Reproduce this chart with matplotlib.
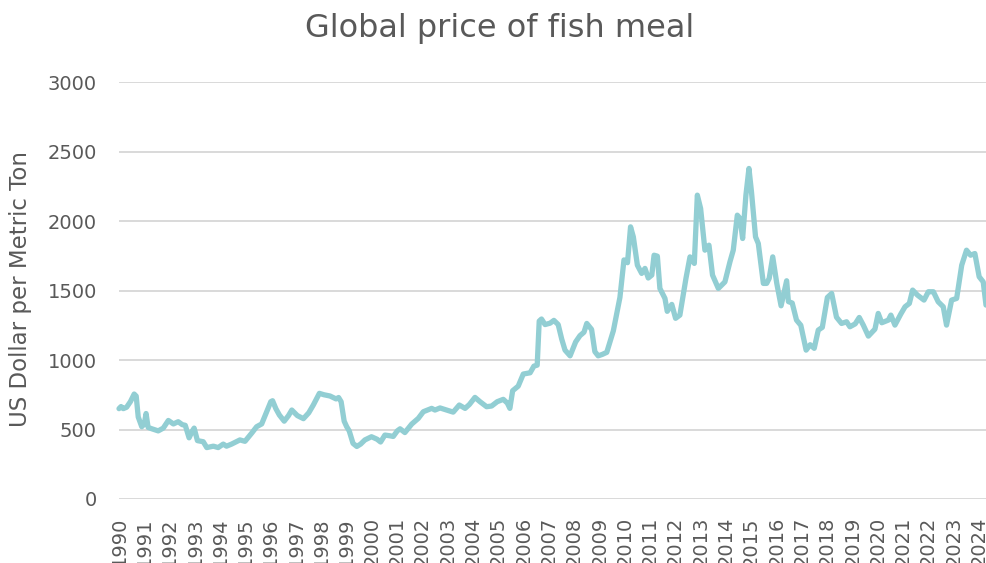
import matplotlib
matplotlib.use("Agg")
import matplotlib.pyplot as plt

plt.rcParams['font.family'] = ['DejaVu Sans']

title = "Global price of fish meal"
y_label = "US Dollar per Metric Ton"
year_ticks = list(range(1990, 2025))
y_ticks = [0, 500, 1000, 1500, 2000, 2500, 3000]

# fractional year of each reading
dates = [
    1990.00, 1990.08, 1990.17, 1990.30, 1990.45, 1990.60, 1990.68, 1990.76, 1990.90,
    1991.00, 1991.07, 1991.15, 1991.30, 1991.55, 1991.75, 1991.95,
    1992.15, 1992.34, 1992.50, 1992.62, 1992.77, 1992.90, 1992.97,
    1993.10, 1993.33, 1993.47, 1993.60, 1993.73, 1993.92,
    1994.12, 1994.25, 1994.45, 1994.78, 1994.98,
    1995.25, 1995.44, 1995.64, 1995.84, 1996.00, 1996.07, 1996.20, 1996.34, 1996.53,
    1996.70, 1996.83, 1997.05, 1997.29, 1997.50, 1997.68, 1997.92,
    1998.10, 1998.34, 1998.58, 1998.68, 1998.78, 1998.90, 1999.00, 1999.10, 1999.25,
    1999.40, 1999.55, 1999.72, 1999.98,
    2000.20, 2000.34, 2000.51, 2000.70, 2000.84, 2001.00, 2001.11, 2001.30, 2001.57,
    2001.83, 2002.03, 2002.20, 2002.36, 2002.49, 2002.69, 2002.95,
    2003.21, 2003.45, 2003.68, 2003.85, 2004.07, 2004.27, 2004.53, 2004.73, 2004.95,
    2005.19, 2005.35, 2005.45, 2005.56, 2005.78, 2005.98,
    2006.25, 2006.40, 2006.53, 2006.61, 2006.70, 2006.84, 2007.04, 2007.19, 2007.36,
    2007.50, 2007.63, 2007.83, 2008.05, 2008.22, 2008.38, 2008.49, 2008.68, 2008.81,
    2008.94, 2009.10, 2009.28, 2009.54, 2009.80, 2009.96,
    2010.10, 2010.22, 2010.33, 2010.49, 2010.66, 2010.79, 2010.92,
    2011.06, 2011.15, 2011.28, 2011.38, 2011.58, 2011.67, 2011.85,
    2012.00, 2012.17, 2012.41, 2012.57, 2012.74, 2012.86, 2012.99,
    2013.16, 2013.32, 2013.46, 2013.69, 2013.95,
    2014.15, 2014.28, 2014.44, 2014.55, 2014.65, 2014.78, 2014.90,
    2015.00, 2015.16, 2015.27, 2015.47, 2015.60, 2015.70, 2015.84,
    2016.00, 2016.17, 2016.39, 2016.46, 2016.61, 2016.78, 2016.95,
    2017.16, 2017.32, 2017.48, 2017.64, 2017.80,
    2018.00, 2018.17, 2018.36, 2018.56, 2018.76, 2018.89,
    2019.10, 2019.26, 2019.42, 2019.62, 2019.88,
    2020.01, 2020.15, 2020.41, 2020.51, 2020.67, 2020.90,
    2021.07, 2021.24, 2021.37, 2021.56, 2021.82, 2021.99,
    2022.19, 2022.38, 2022.58, 2022.71, 2022.91,
    2023.11, 2023.31, 2023.50, 2023.66, 2023.83,
    2024.00, 2024.16, 2024.27,
]

# US dollars per metric ton
prices = [
    650, 665, 650, 660, 700, 755, 740, 590, 520,
    540, 615, 515, 505, 490, 510, 565,
    540, 556, 535, 530, 440, 490, 510,
    420, 412, 370, 375, 380, 370,
    395, 380, 395, 425, 415,
    475, 520, 540, 628, 700, 707, 650, 604, 560,
    600, 640, 600, 578, 620, 676, 760,
    750, 741, 720, 730, 700, 560, 520, 490, 400,
    378, 395, 425, 448,
    430, 410, 460, 455, 450, 490, 505, 478, 539,
    580, 628, 640, 652, 640, 655, 640,
    625, 676, 652, 680, 731, 700, 664, 669, 700,
    717, 690, 652, 779, 812, 899,
    908, 956, 963, 1280, 1295, 1255, 1265, 1285, 1255,
    1150, 1071, 1030, 1130, 1175, 1200, 1263, 1220, 1060,
    1030, 1040, 1055, 1210, 1450, 1720,
    1700, 1958, 1886, 1682, 1623, 1659, 1590,
    1611, 1754, 1747, 1515, 1443, 1350, 1400,
    1300, 1323, 1587, 1742, 1695, 2186, 2090,
    1790, 1826, 1611, 1515, 1562,
    1707, 1790, 2042, 2018, 1874, 2186, 2378,
    2210, 1886, 1838, 1551, 1551, 1587, 1742,
    1551, 1390, 1570, 1420, 1410, 1287, 1250,
    1071, 1110, 1084, 1215, 1235,
    1450, 1479, 1308, 1263, 1275, 1239,
    1260, 1306, 1251, 1172, 1222,
    1335, 1268, 1287, 1323, 1251, 1330,
    1383, 1407, 1503, 1467, 1431, 1491,
    1491, 1419, 1383, 1251, 1431,
    1443, 1682, 1790, 1754, 1766,
    1599, 1562, 1395,
]

W, H = 986, 563
fig = plt.figure(figsize=(W / 100, H / 100), dpi=100)
ax = fig.add_axes([119 / W, 1 - 499 / H, (986 - 119) / W, (499 - 82) / H])

text_color = "#595959"
grid_color = "#D9D9D9"
line_color = "#92CED3"

ax.plot(dates, prices, color=line_color, lw=3.8, solid_joinstyle="round",
        solid_capstyle="round", zorder=3, clip_on=False)

ax.set_xlim(1990, 2024.27)
ax.set_ylim(0, 3000)
ax.set_yticks(y_ticks)
ax.set_yticklabels([str(v) for v in y_ticks])
ax.set_xticks(year_ticks)
ax.set_xticklabels([str(y) for y in year_ticks], rotation=90, va="top", ha="center")

ax.grid(axis="y", color=grid_color, lw=1.4, zorder=0)
ax.set_axisbelow(True)
for s in ax.spines.values():
    s.set_visible(False)
ax.tick_params(axis="both", length=0, colors=text_color, labelsize=14)
ax.tick_params(axis="y", pad=16)
ax.tick_params(axis="x", pad=13)

fig.text(500 / W, 1 - 29 / H, title, ha="center", va="center", fontsize=23, color=text_color)
fig.text(21 / W, 1 - 289 / H, y_label, ha="center", va="center", rotation=90,
         fontsize=16.5, color=text_color)

fig.savefig("out.png", dpi=100)
